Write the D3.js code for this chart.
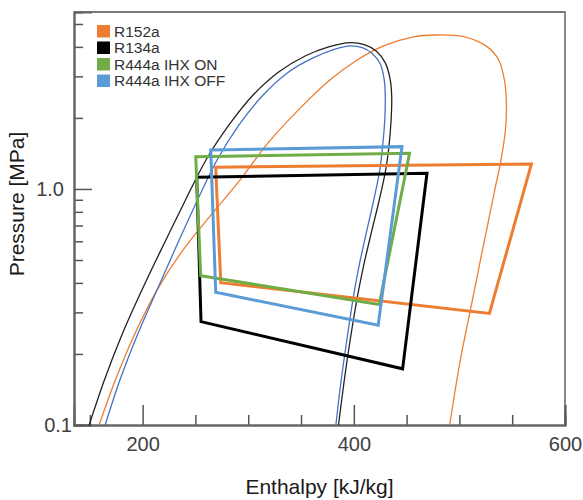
<!DOCTYPE html>
<html>
<head>
<meta charset="utf-8">
<script src="https://cdn.jsdelivr.net/npm/d3@7"></script>
<style>
  html, body { margin: 0; padding: 0; background: #fff; }
  svg { display: block; font-family: "Liberation Sans", Arial, sans-serif; }
</style>
</head>
<body>
<script>
// saturation domes [h kJ/kg, P MPa], liquid side -> critical point -> vapour side
const domeR134a = [
  [149.4, 0.100], [163.8, 0.155], [180.4, 0.241], [199.3, 0.373], [219.7, 0.579],
  [240.6, 0.898], [260.0, 1.327], [281.8, 1.867], [304.6, 2.50], [328.8, 3.13],
  [353.9, 3.66], [376.2, 4.00], [396.6, 4.17], [409.9, 4.09], [421.2, 3.84],
  [429.8, 3.42], [434.5, 2.90], [435.9, 2.45], [435.3, 1.96], [433.4, 1.536],
  [430.2, 1.204], [424.1, 0.898], [416.5, 0.651], [409.4, 0.476], [403.7, 0.356],
  [398.5, 0.260], [393.7, 0.189], [389.5, 0.138], [385.5, 0.100]
];
const domeR444a = [
  [164.5, 0.100], [178.5, 0.155], [195.1, 0.241], [213.6, 0.373], [232.5, 0.579],
  [252.0, 0.898], [270.5, 1.327], [291.3, 1.867], [314.1, 2.50], [338.3, 3.13],
  [361.5, 3.59], [381.4, 3.90], [396.6, 4.04], [408.0, 3.97], [417.4, 3.75],
  [425.0, 3.39], [428.8, 2.90], [429.8, 2.45], [429.3, 1.96], [427.4, 1.536],
  [424.6, 1.204], [418.9, 0.898], [411.8, 0.651], [405.1, 0.476], [399.9, 0.356],
  [395.2, 0.260], [390.7, 0.189], [386.6, 0.138], [383.0, 0.100]
];
const domeR152a = [
  [158.8, 0.100], [174.2, 0.155], [192.2, 0.241], [213.6, 0.373], [238.2, 0.551],
  [264.8, 0.776], [292.3, 1.092], [318.8, 1.567], [349.2, 2.20], [377.6, 2.90],
  [403.2, 3.52], [428.2, 4.04], [456.6, 4.41], [477.2, 4.49], [504.0, 4.42],
  [526.2, 4.01], [537.2, 3.52], [542.6, 2.90], [544.5, 2.31], [543.6, 1.778],
  [538.8, 1.285], [534.1, 1.023], [527.7, 0.739], [519.9, 0.500], [510.4, 0.307],
  [500.9, 0.189], [490.8, 0.100]
];

// refrigeration cycles: condenser outlet, compressor outlet, evaporator, expansion
const cycleR152a = [[269.2, 1.236], [568.2, 1.276], [528.4, 0.297], [274.0, 0.401]];
const cycleR134a = [[251.2, 1.121], [469.3, 1.166], [446.2, 0.173], [255.3, 0.274]];
const cycleIhxOn = [[250.3, 1.370], [452.8, 1.417], [424.1, 0.324], [255.0, 0.429]];
const cycleIhxOff = [[264.5, 1.463], [445.6, 1.511], [423.1, 0.265], [269.2, 0.365]];

const legendNames = ["R152a", "R134a", "R444a IHX ON", "R444a IHX OFF"];
const legendColors = ["#ed7d31", "#000000", "#70ad47", "#5b9bd5"];

const xMajor = [200, 400, 600];
const xMinor = [150, 250, 300, 350, 450, 500, 550];
const yMajor = [0.1, 1.0];
const yMinor = [0.2, 0.3, 0.4, 0.5, 0.6, 0.7, 0.8, 0.9, 2, 3, 4, 5];

const W = 583, H = 500;
const plotLeft = 74, plotRight = 565, plotTop = 12, plotBottom = 425;

const svg = d3.select('body').append('svg')
  .attr('width', W)
  .attr('height', H);

const x = d3.scaleLinear().domain([135, 600]).range([plotLeft, plotRight]);
const y = d3.scaleLog().domain([0.1, 5.62]).range([plotBottom, plotTop]);

// frame
svg.append('path')
  .attr('d', `M${plotLeft},${plotTop}H${plotRight}V${plotBottom}`)
  .attr('fill', 'none')
  .attr('stroke', '#7a7a7a')
  .attr('stroke-width', 1.8);

// x axis
const gx = svg.append('g').attr('transform', `translate(0,${plotBottom})`);
gx.append('g').call(d3.axisBottom(x).tickValues(xMinor).tickSize(-10).tickFormat(''));
gx.append('g').call(d3.axisBottom(x).tickValues(xMajor).tickSize(-20).tickPadding(12).tickFormat(d3.format('d')));
gx.selectAll('.domain').attr('stroke', '#666').attr('stroke-width', 2);
gx.selectAll('.tick line').attr('stroke', '#555').attr('stroke-width', 1.5);
gx.selectAll('text').attr('font-size', 20).attr('fill', '#404040');

// y axis
const gy = svg.append('g').attr('transform', `translate(${plotLeft},0)`);
gy.append('g').call(d3.axisLeft(y).tickValues(yMinor).tickSize(-9).tickFormat(''));
gy.append('g').call(d3.axisLeft(y).tickValues(yMajor).tickSize(-18).tickPadding(10).tickFormat(d3.format('.1f')));
gy.selectAll('.domain').attr('stroke', '#666').attr('stroke-width', 2);
gy.selectAll('.tick line').attr('stroke', '#555').attr('stroke-width', 1.5);
gy.selectAll('text').attr('font-size', 20).attr('fill', '#404040');
gy.selectAll('.tick text').filter(d => d === 0.1).attr('dx', 8);

// axis titles
svg.append('text')
  .attr('x', (plotLeft + plotRight) / 2)
  .attr('y', 494)
  .attr('text-anchor', 'middle')
  .attr('font-size', 21)
  .attr('fill', '#1a1a1a')
  .text('Enthalpy [kJ/kg]');

svg.append('text')
  .attr('transform', `translate(24,${204}) rotate(-90)`)
  .attr('text-anchor', 'middle')
  .attr('font-size', 21)
  .attr('fill', '#1a1a1a')
  .text('Pressure [MPa]');

const plot = svg.append('g');

const domeLine = d3.line()
  .x(d => x(d[0]))
  .y(d => y(d[1]))
  .curve(d3.curveCatmullRom.alpha(0.5));

const cycleLine = d3.line()
  .x(d => x(d[0]))
  .y(d => y(d[1]))
  .curve(d3.curveLinearClosed);

// domes
[[domeR152a, '#ed7d31'], [domeR134a, '#222222'], [domeR444a, '#4472c4']].forEach(([pts, c]) => {
  plot.append('path')
    .attr('d', domeLine(pts))
    .attr('fill', 'none')
    .attr('stroke', c)
    .attr('stroke-width', 1.3);
});

// cycles
[[cycleR152a, legendColors[0]], [cycleR134a, legendColors[1]],
 [cycleIhxOn, legendColors[2]], [cycleIhxOff, legendColors[3]]].forEach(([pts, c]) => {
  plot.append('path')
    .attr('d', cycleLine(pts))
    .attr('fill', 'none')
    .attr('stroke', c)
    .attr('stroke-width', 3)
    .attr('stroke-linejoin', 'miter');
});

// legend
const legend = svg.append('g').attr('transform', 'translate(97,25)');
legendNames.forEach((name, i) => {
  const row = legend.append('g').attr('transform', `translate(0,${i * 16.5})`);
  row.append('rect')
    .attr('width', 13)
    .attr('height', 12.5)
    .attr('fill', legendColors[i]);
  row.append('text')
    .attr('x', 17)
    .attr('y', 6.5)
    .attr('dy', '0.35em')
    .attr('font-size', 15.5)
    .attr('fill', '#333')
    .text(name);
});
</script>
</body>
</html>
